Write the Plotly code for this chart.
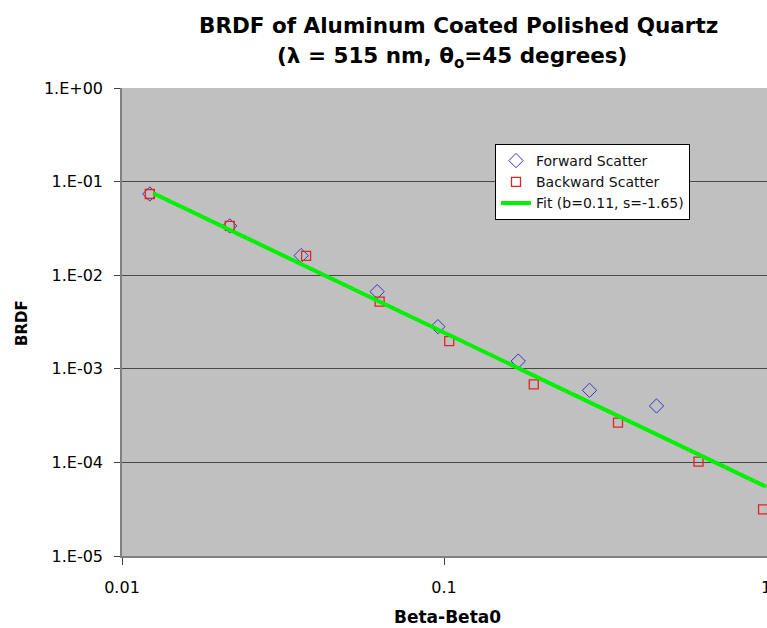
import plotly.graph_objects as go

# ---- data ----
forward_x = [0.0122, 0.0216, 0.0360, 0.0620, 0.0957, 0.170, 0.283, 0.457]
forward_y = [0.0737, 0.0336, 0.0162, 0.00667, 0.00282, 0.00121, 0.000589, 0.000401]

backward_x = [0.0122, 0.0216, 0.0373, 0.0631, 0.1038, 0.190, 0.347, 0.617, 0.979]
backward_y = [0.0737, 0.0336, 0.0161, 0.00521, 0.00198, 0.000683, 0.000266, 0.000102, 3.15e-5]

fit_x = [0.0125, 1.0]
fit_y = [0.0750, 5.5e-5]

y_tickvals = [1e0, 1e-1, 1e-2, 1e-3, 1e-4, 1e-5]
y_ticktext = ["1.E+00", "1.E-01", "1.E-02", "1.E-03", "1.E-04", "1.E-05"]
x_tickvals = [0.01, 0.1, 1]
x_ticktext = ["0.01", "0.1", "1"]

FONT = "DejaVu Sans"

fig = go.Figure()
fig.add_trace(go.Scatter(
    x=forward_x, y=forward_y, mode="markers", name="Forward Scatter",
    legendgroup="a",
    marker=dict(symbol="diamond-open", size=11, color="#3434C8",
                line=dict(width=1, color="#3434C8")),
))
fig.add_trace(go.Scatter(
    x=backward_x, y=backward_y, mode="markers", name="Backward Scatter",
    legendgroup="b",
    marker=dict(symbol="square-open", size=9, color="#E02424",
                line=dict(width=1.3, color="#E02424")),
))
fig.add_trace(go.Scatter(
    x=fit_x, y=fit_y, mode="lines", name="Fit (b=0.11, s=-1.65)",
    legendgroup="c",
    line=dict(color="#00F000", width=4),
))

W, H = 767, 628
L, R, T, B = 122, 0, 88, 72
pw, ph = W - L - R, H - T - B

def px(xp):
    return (xp - L) / pw

def py(yp):
    return (H - B - yp) / ph

fig.update_layout(
    width=W, height=H,
    margin=dict(l=L, r=R, t=T, b=B, pad=0, autoexpand=False),
    paper_bgcolor="white",
    plot_bgcolor="#C0C0C0",
    font=dict(family=FONT, size=16, color="black"),
    showlegend=True,
    legend=dict(
        x=px(495), y=py(144), xanchor="left", yanchor="top",
        bgcolor="white", bordercolor="black", borderwidth=1,
        font=dict(family=FONT, size=14, color="#111111"),
        tracegroupgap=9,
        traceorder="normal",
    ),
    xaxis=dict(
        type="log", range=[-2, 0.003],
        tickvals=x_tickvals[:-1], ticktext=x_ticktext[:-1],
        showgrid=False, zeroline=False, automargin=False,
        showline=True, linecolor="#808080", linewidth=1.5,
        ticks="outside", ticklen=7, tickcolor="#404040", tickwidth=1,
        tickfont=dict(family=FONT, size=16, color="black"),
        ticklabelstandoff=9,
    ),
    yaxis=dict(
        type="log", range=[-5, 0],
        tickvals=y_tickvals, ticktext=y_ticktext,
        showgrid=True, gridcolor="#484848", gridwidth=1,
        zeroline=False, automargin=False,
        showline=True, linecolor="#808080", linewidth=1.5,
        ticks="outside", ticklen=6, tickcolor="#404040", tickwidth=1,
        tickfont=dict(family=FONT, size=16, color="black"),
        ticklabelstandoff=8,
    ),
    annotations=[
        # last x tick label, sitting on the (cropped) right edge
        dict(text=x_ticktext[-1], xref="x", yref="paper",
             x=0, y=py(587), xanchor="center", yanchor="middle",
             showarrow=False, font=dict(family=FONT, size=16, color="black")),
        dict(text="<b>BRDF of Aluminum Coated Polished Quartz</b>",
             xref="paper", yref="paper", x=px(458), y=py(25),
             xanchor="center", yanchor="middle", showarrow=False,
             font=dict(family=FONT, size=21.5, color="black")),
        dict(text="<b>(λ = 515 nm, θ<sub>o</sub>=45 degrees)</b>",
             xref="paper", yref="paper", x=px(452), y=py(57),
             xanchor="center", yanchor="middle", showarrow=False,
             font=dict(family=FONT, size=21.5, color="black")),
        dict(text="<b>Beta-Beta0</b>",
             xref="paper", yref="paper", x=px(447), y=py(617),
             xanchor="center", yanchor="middle", showarrow=False,
             font=dict(family=FONT, size=17, color="black")),
        dict(text="<b>BRDF</b>",
             xref="paper", yref="paper", x=px(22), y=py(323),
             xanchor="center", yanchor="middle", showarrow=False,
             textangle=-90,
             font=dict(family=FONT, size=15, color="black")),
    ],
)

fig.write_html("out.html",
               config={"displayModeBar": False},
               post_script="document.body.style.margin='0';document.body.style.overflow='hidden';")
